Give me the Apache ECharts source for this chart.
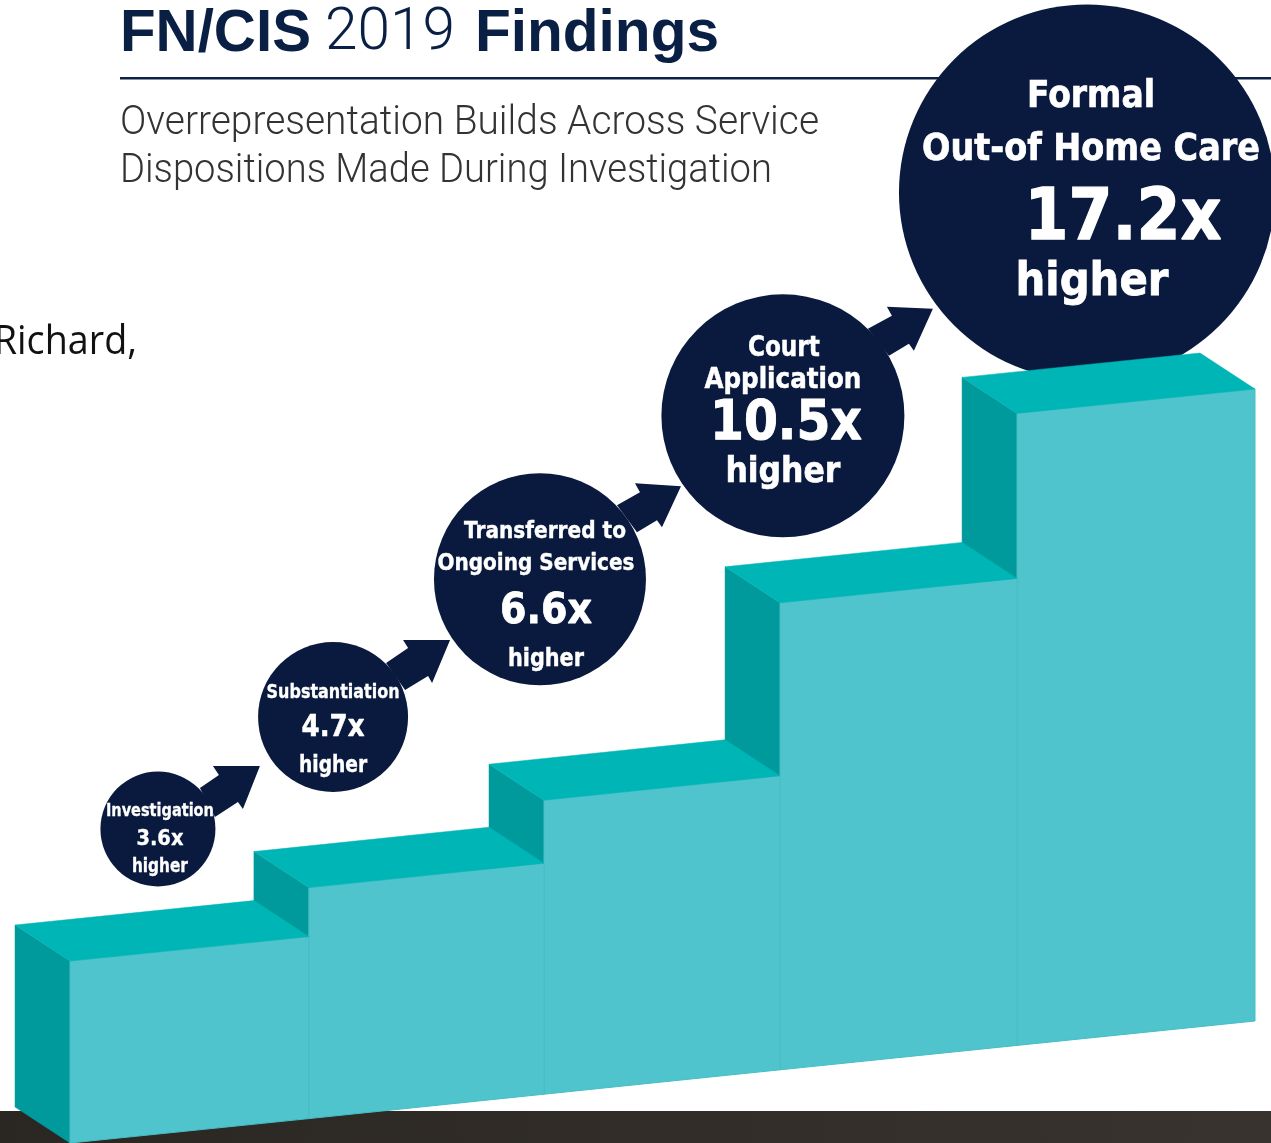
<!DOCTYPE html>
<html><head><meta charset="utf-8">
<style>html,body{margin:0;padding:0;background:#fff;overflow:hidden}#c{width:1271px;height:1143px}</style>
<script src="https://cdn.jsdelivr.net/npm/echarts@6/dist/echarts.min.js"></script>
</head><body><div id="c"></div>
<script>
// ---- data ----
const categories = ['Investigation','Substantiation','Transferred to Ongoing Services','Court Application','Formal Out-of Home Care'];
const ratios = [3.6, 4.7, 6.6, 10.5, 17.2];
const stepHeights = [182, 231, 294, 467, 632];
const titleBold1 = 'FN/CIS', titleYear = '2019', titleBold2 = 'Findings';
const subtitleLines = ['Overrepresentation Builds Across Service','Dispositions Made During Investigation'];
const labelLines = [['Investigation'],['Substantiation'],['Transferred to','Ongoing Services'],['Court','Application'],['Formal','Out-of Home Care']];
const higherWord = 'higher';

// ---- layout, separate from the data ----
const BASE_RISE = 24.4;                    // floor rises along each step (value units)
const DEPTH_X = 0.232, DEPTH_Y = 36;       // receding depth of each block
const EDGE_NUDGE = [0, 0.008, 0, -0.004, -0.004, 0]; // small differences in block widths
const COLORS = {front:'#50C4CC', frontLine:'#46BEC6', top:'#00B5B5', side:'#009A9C', ball:'#0A1A3E'};
const circleOffset = [[0.371,132],[0.110,170.6],[-0.017,221],[0.008,187],[0.291,221]];
const circleRadius = [57.5,75,106,121.5,188];
// per line: dx, dy (from the centre of the circle), font size, width on the page
const textLayout = [
  [[2,-18,18,108],[2,10,22,47],[2,38,19,56]],
  [[0,-24,19,133],[0,11,31,63],[0,49,23,68]],
  [[5,-47,23,162],[-4,-15,23,197],[6,33,43,92],[6,81,24,76]],
  [[1,-67,28,72],[0,-35,28,157],[3,9,55,152],[0,57,35,115]],
  [[4,-95,37,128],[4,-42,37,338],[36,28,72,197],[5,90,47,153]]
];
const arrowShape = [
  [[42,-41],[61,-54],[55,-63],[102,-63],[85,-20],[80,-27],[57,-12]],
  [[53,-54],[75,-69],[70,-77],[117,-77],[99,-34],[95,-41],[72,-27]],
  [[77,-74],[100,-87],[95,-96],[141,-93],[122,-52],[117,-59],[97,-47]],
  [[85,-87],[109,-100],[104,-109],[150,-107],[131,-65],[126,-72],[106,-60]]
];
const BOLD = '"DejaVu Sans"';
const ctx = document.createElement('canvas').getContext('2d');
function fit(text, size, family, weight, w){
  ctx.font = weight + ' ' + size + 'px ' + family;
  return w / ctx.measureText(text).width;
}
function linesOf(i){ return labelLines[i].concat([ratios[i].toFixed(1)+'x', higherWord]); }
function baseY(x){ return x * BASE_RISE; }
function edge(i){ return i + EDGE_NUDGE[i]; }

function renderStep(params, api){
  const i = api.value(0), h = api.value(1);
  const topL = baseY(i) + h, topR = topL + BASE_RISE;
  const xL = edge(i), xR = edge(i+1);
  const P = (x, y) => api.coord([x, y]);
  const poly = (pts, fill, stroke) => ({type:'polygon', shape:{points:pts}, style:{fill:fill, stroke:stroke||fill, lineWidth:stroke?1:0.5}});
  return {type:'group', children:[
    poly([P(xL-DEPTH_X, topL+DEPTH_Y), P(xL, topL), P(xL, baseY(i)), P(xL-DEPTH_X, baseY(i)+DEPTH_Y)], COLORS.side),
    poly([P(xL, topL), P(xR, topR), P(xR, baseY(i+1)), P(xL, baseY(i))], COLORS.front, COLORS.frontLine),
    poly([P(xL-DEPTH_X, topL+DEPTH_Y), P(xR-DEPTH_X, topR+DEPTH_Y), P(xR, topR), P(xL, topL)], COLORS.top)
  ]};
}
function renderBall(params, api){
  const i = api.value(0), h = api.value(1);
  const c = api.coord([i + circleOffset[i][0], baseY(i) + h + circleOffset[i][1]]);
  const kids = [{type:'circle', shape:{cx:c[0], cy:c[1], r:circleRadius[i]}, style:{fill:COLORS.ball}}];
  if (arrowShape[i]) kids.push({type:'polygon', shape:{points:arrowShape[i].map(p => [c[0]+p[0], c[1]+p[1]])}, style:{fill:COLORS.ball}});
  linesOf(i).forEach((t, k) => {
    const L = textLayout[i][k];
    kids.push({type:'text', x:c[0]+L[0], y:c[1]+L[1], scaleX:fit(t, L[2], BOLD, 'bold', L[3]),
      style:{text:t, fill:'#fff', stroke:'#fff', lineWidth:L[2]/55, font:'bold '+L[2]+'px '+BOLD, textAlign:'center', textVerticalAlign:'middle'}});
  });
  return {type:'group', children:kids};
}
const stepData = categories.map((c, i) => [i, stepHeights[i], ratios[i], c]);

const chart = echarts.init(document.getElementById('c'), null, {renderer:'canvas', width:1271, height:1143});
chart.setOption({
  animation:false,
  backgroundColor:'#fff',
  grid:{left:70, right:16, top:0, bottom:0},
  xAxis:{type:'value', min:0, max:5, show:false},
  yAxis:{type:'value', min:0, max:1143, show:false},
  tooltip:{show:false},
  graphic:[
    {type:'rect', z:0, shape:{x:0,y:1111,width:1271,height:32}, style:{fill:new echarts.graphic.LinearGradient(0,0,1,0,[{offset:0,color:'#2A2622'},{offset:1,color:'#38332E'}])}},
    {type:'rect', z:0, shape:{x:120,y:77,width:1151,height:2.5}, style:{fill:'#0F2147'}},
    {type:'text', z:1, x:120, y:5, scaleX:fit(titleBold1,59,'"Liberation Sans"','bold',191), style:{text:titleBold1, font:'bold 59px "Liberation Sans"', fill:'#0A1F44'}},
    {type:'text', z:1, x:325, y:5, scaleX:fit(titleYear,59,'Roboto','300',130), style:{text:titleYear, font:'300 59px Roboto', fill:'#0A1F44'}},
    {type:'text', z:1, x:475, y:5, scaleX:fit(titleBold2,59,'"Liberation Sans"','bold',244), style:{text:titleBold2, font:'bold 59px "Liberation Sans"', fill:'#0A1F44'}},
    {type:'text', z:1, x:120, y:104, scaleX:fit(subtitleLines[0],40,'Roboto','300',699), style:{text:subtitleLines[0], font:'300 40px Roboto', fill:'#333'}},
    {type:'text', z:1, x:120, y:152, scaleX:fit(subtitleLines[1],40,'Roboto','300',652), style:{text:subtitleLines[1], font:'300 40px Roboto', fill:'#333'}},
    {type:'text', z:1, x:137, y:322, scaleX:0.92, style:{text:'Richard,', font:'41px "Open Sans"', fill:'#111', textAlign:'right'}}
  ],
  series:[
    {type:'custom', name:'Overrepresentation', z:3, silent:true, renderItem:renderBall, data:stepData, clip:false, encode:{x:0,y:1}},
    {type:'custom', name:'Steps', z:4, silent:true, renderItem:renderStep, data:stepData.slice().reverse(), clip:false, encode:{x:0,y:1}}
  ]
});
</script></body></html>
